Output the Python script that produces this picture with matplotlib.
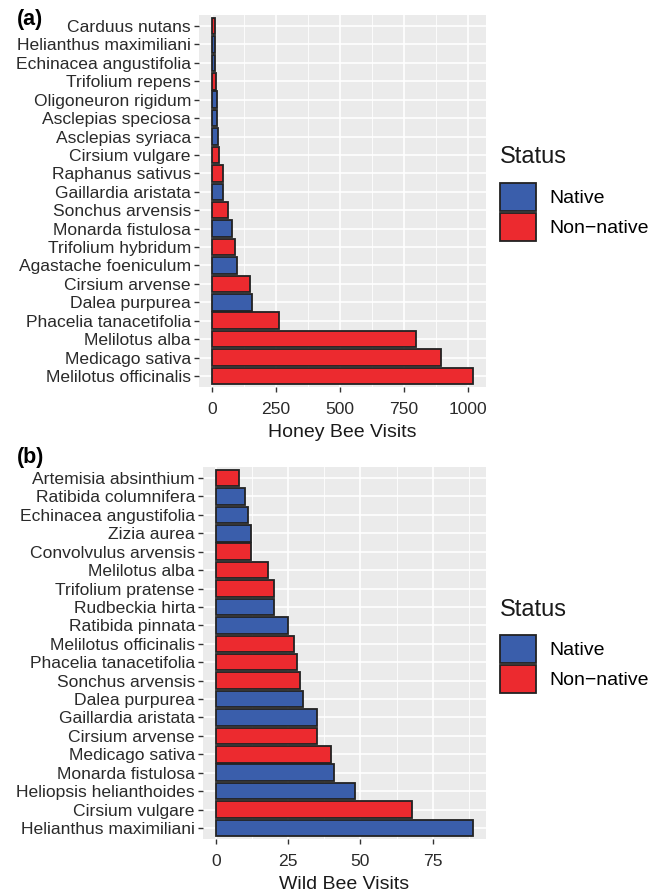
import numpy as np
import matplotlib
matplotlib.use('Agg')
import matplotlib.pyplot as plt
from matplotlib.patches import Patch

plt.rcParams['font.family'] = ['Liberation Sans', 'DejaVu Sans']

# Honey bee visits per plant species (listed top to bottom)
honey_plants = ['Carduus nutans', 'Helianthus maximiliani', 'Echinacea angustifolia',
                'Trifolium repens', 'Oligoneuron rigidum', 'Asclepias speciosa',
                'Asclepias syriaca', 'Cirsium vulgare', 'Raphanus sativus',
                'Gaillardia aristata', 'Sonchus arvensis', 'Monarda fistulosa',
                'Trifolium hybridum', 'Agastache foeniculum', 'Cirsium arvense',
                'Dalea purpurea', 'Phacelia tanacetifolia', 'Melilotus alba',
                'Medicago sativa', 'Melilotus officinalis']
honey_visits = [11, 10, 10, 16, 21, 21, 23, 27, 42, 43, 63, 78, 88, 96, 150, 157,
                262, 797, 895, 1020]
honey_status = ['Non-native', 'Native', 'Native', 'Non-native', 'Native', 'Native',
                'Native', 'Non-native', 'Non-native', 'Native', 'Non-native', 'Native',
                'Non-native', 'Native', 'Non-native', 'Native', 'Non-native',
                'Non-native', 'Non-native', 'Non-native']

# Wild bee visits per plant species (listed top to bottom)
wild_plants = ['Artemisia absinthium', 'Ratibida columnifera', 'Echinacea angustifolia',
               'Zizia aurea', 'Convolvulus arvensis', 'Melilotus alba',
               'Trifolium pratense', 'Rudbeckia hirta', 'Ratibida pinnata',
               'Melilotus officinalis', 'Phacelia tanacetifolia', 'Sonchus arvensis',
               'Dalea purpurea', 'Gaillardia aristata', 'Cirsium arvense',
               'Medicago sativa', 'Monarda fistulosa', 'Heliopsis helianthoides',
               'Cirsium vulgare', 'Helianthus maximiliani']
wild_visits = [8, 10, 11, 12, 12, 18, 20, 20, 25, 27, 28, 29, 30, 35, 35, 40, 41, 48,
               68, 89]
wild_status = ['Non-native', 'Native', 'Native', 'Native', 'Non-native', 'Non-native',
               'Non-native', 'Native', 'Native', 'Non-native', 'Non-native', 'Non-native',
               'Native', 'Native', 'Non-native', 'Non-native', 'Native', 'Native',
               'Non-native', 'Native']

honey_ticks = [0, 250, 500, 750, 1000]
wild_ticks = [0, 25, 50, 75]

palette = {'Native': '#3A5EAB', 'Non-native': '#EC2A2F'}
legend_labels = {'Native': 'Native', 'Non-native': 'Non\u2212native'}

W, H = 650, 893
fig = plt.figure(figsize=(W / 100, H / 100), dpi=100)


def px_axes(left, top, right, bottom):
    return fig.add_axes([left / W, 1 - bottom / H, (right - left) / W, (bottom - top) / H])


def bee_panel(ax, plants, visits, status, ticks, xlabel):
    pos = np.arange(len(plants))
    colors = [palette[s] for s in status]
    ax.barh(pos, visits, height=0.9, color=colors, edgecolor='#222222', linewidth=1.3,
            zorder=3)
    xmax = max(visits)
    ax.set_ylim(len(plants) - 0.4, -0.6)
    ax.set_yticks(pos)
    ax.set_yticklabels(plants)
    ax.set_xticks(ticks)
    step = ticks[1] - ticks[0]
    minor = [t + step / 2 for t in ticks] + [ticks[0] - step / 2]
    ax.set_xticks(minor, minor=True)
    ax.set_facecolor('#EBEBEB')
    for s in ax.spines.values():
        s.set_visible(False)
    ax.grid(True, which='major', color='white', linewidth=1.2, zorder=0)
    ax.grid(True, which='minor', axis='x', color='white', linewidth=0.6, zorder=0)
    ax.set_axisbelow(True)
    ax.tick_params(which='major', length=3.8, width=1.0, color='#333333',
                   labelsize=12.6, labelcolor='#2A2A2A', pad=2)
    ax.tick_params(axis='x', which='major', pad=7)
    ax.tick_params(which='minor', length=0)
    ax.set_xlabel(xlabel, fontsize=14, color='#1A1A1A', labelpad=5)
    ax.set_xlim(-0.05 * xmax, 1.05 * xmax)


def status_legend(key_left, key_top, title_y):
    handles = [Patch(facecolor=palette[k], edgecolor='#222222', linewidth=1.3,
                     label=legend_labels[k]) for k in ['Native', 'Non-native']]
    fig.legend(handles=handles, loc='upper left',
               bbox_to_anchor=(key_left / W, 1 - key_top / H),
               frameon=False, fontsize=14, handlelength=1.85, handleheight=1.85,
               handletextpad=0.7, labelspacing=0.1, borderpad=0, borderaxespad=0)
    fig.text(key_left / W, 1 - title_y / H, 'Status', fontsize=17, va='center',
             ha='left', color='#1A1A1A')


ax1 = px_axes(199, 15, 486, 387)
bee_panel(ax1, honey_plants, honey_visits, honey_status, honey_ticks, 'Honey Bee Visits')
ax2 = px_axes(203, 467, 486, 839)
bee_panel(ax2, wild_plants, wild_visits, wild_status, wild_ticks, 'Wild Bee Visits')

status_legend(500, 183, 157)
status_legend(500, 635, 610)

fig.text(17 / W, 1 - 20 / H, '(a)', fontsize=15.5, fontweight='bold', va='center')
fig.text(17 / W, 1 - 458 / H, '(b)', fontsize=15.5, fontweight='bold', va='center')

fig.savefig('out.png', dpi=100)
